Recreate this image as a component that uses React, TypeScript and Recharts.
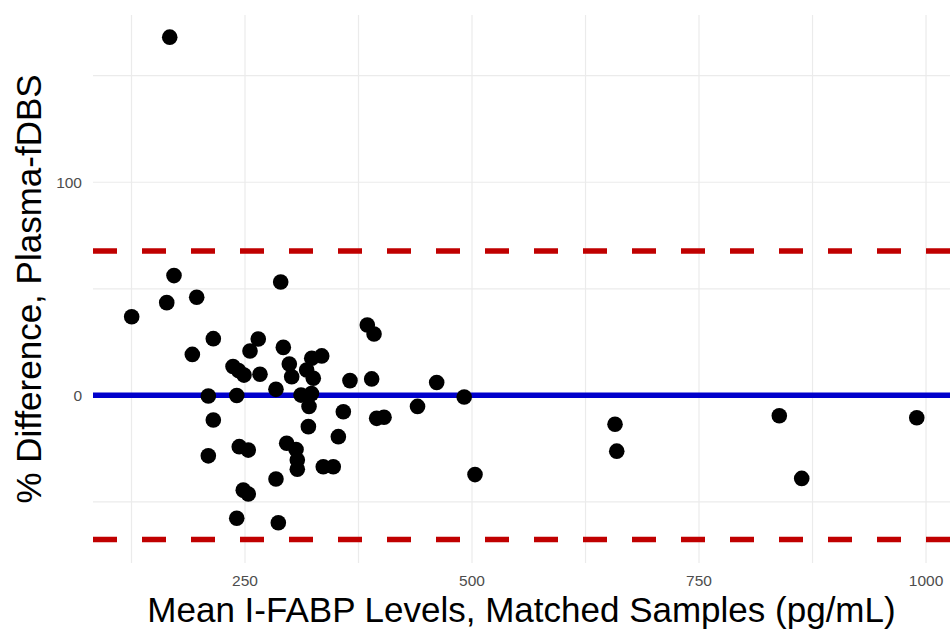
import { CartesianGrid, Label, ReferenceLine, Scatter, ScatterChart, XAxis, YAxis } from "recharts";

// mean of plasma and fDBS I-FABP (pg/mL)
const meanLevels = [
  167.1, 125.2, 171.8, 163.8, 196.8, 215.1, 192.0, 209.6, 240.9, 289.3,
  264.6, 255.5, 292.2, 236.8, 242.8, 248.9, 266.5, 298.8, 301.4, 284.1,
  323.5, 334.5, 317.9, 325.2, 365.6, 389.5, 384.7, 392.1, 215.1, 209.6,
  243.7, 253.6, 248.1, 253.6, 240.9, 286.7, 284.1, 295.9, 306.2, 307.6,
  307.6, 320.5, 319.8, 358.3, 352.8, 336.2, 347.2, 395.0, 403.1, 461.1,
  440.0, 491.4, 503.3, 657.5, 659.4, 838.4, 863.1, 989.8, 311.7, 323.2,
];

// % difference plasma - fDBS, same order
const pctDiffs = [
  168.1, 36.9, 56.2, 43.5, 46.0, 26.6, 19.2, -0.3, -0.1, 53.2,
  26.4, 20.8, 22.5, 13.5, 11.6, 9.5, 9.9, 14.7, 8.7, 2.8,
  17.4, 18.5, 11.9, 8.0, 6.9, 7.7, 33.0, 28.8, -11.6, -28.4,
  -24.1, -25.7, -44.5, -46.3, -57.7, -59.8, -39.3, -22.5, -25.4, -30.4,
  -34.7, -5.2, -14.7, -7.7, -19.4, -33.5, -33.5, -10.8, -10.3, 6.0,
  -5.2, -0.8, -37.2, -13.6, -26.2, -9.6, -39.0, -10.5, 0.1, 0.8,
];

const meanBias = 0;
const limitsOfAgreement = [67.7, -67.7];

const xTicks = [250, 500, 750, 1000];
const yTicks = [0, 100];
const xGrid = [125, 250, 375, 500, 625, 750, 875, 1000];
const yGrid = [-50, 0, 50, 100, 150];

const points = meanLevels.map((x, i) => ({ x, y: pctDiffs[i] }));

const FONT = "'Liberation Sans', Arial, Helvetica, sans-serif";

const XTick = (props: any) => (
  <text x={props.x} y={props.y + 23} textAnchor="middle" fontSize={15.5} fill="#4d4d4d" fontFamily={FONT}>
    {props.payload.value}
  </text>
);

const YTick = (props: any) => (
  <text x={props.x - 11} y={props.y + 6} textAnchor="end" fontSize={15.5} fill="#4d4d4d" fontFamily={FONT}>
    {props.payload.value}
  </text>
);

const Dot = (props: any) => <circle cx={props.cx} cy={props.cy} r={7.8} fill="#000" />;

export default function App() {
  return (
    <div style={{ position: "absolute", left: 0, top: 0, background: "#fff" }}>
      <ScatterChart width={950} height={629} margin={{ top: 15, right: 0, bottom: 0, left: 0 }}>
        <CartesianGrid stroke="#ebebeb" strokeWidth={1.2} horizontalValues={yGrid} verticalValues={xGrid} />
        <XAxis
          allowDataOverflow
          axisLine={false}
          dataKey="x"
          domain={[82.6, 1026.4]}
          height={66}
          interval={0}
          tick={<XTick />}
          tickLine={false}
          tickMargin={0}
          tickSize={0}
          ticks={xTicks}
          type="number"
        >
          <Label
            content={(p: any) => (
              <text
                x={p.viewBox.x + p.viewBox.width / 2}
                y={p.viewBox.y + 59}
                textAnchor="middle"
                fontSize={35}
                fill="#000"
                fontFamily={FONT}
              >
                Mean I-FABP Levels, Matched Samples (pg/mL)
              </text>
            )}
          />
        </XAxis>
        <YAxis
          allowDataOverflow
          axisLine={false}
          dataKey="y"
          domain={[-78.7, 178.5]}
          interval={0}
          tick={<YTick />}
          tickLine={false}
          tickMargin={0}
          tickSize={0}
          ticks={yTicks}
          type="number"
          width={93}
        >
          <Label
            content={(p: any) => {
              const cy = p.viewBox.y + p.viewBox.height / 2;
              return (
                <text
                  x={41}
                  y={cy}
                  transform={`rotate(-90, 41, ${cy})`}
                  textAnchor="middle"
                  fontSize={35}
                  fill="#000"
                  fontFamily={FONT}
                >
                  % Difference, Plasma-fDBS
                </text>
              );
            }}
          />
        </YAxis>
        <ReferenceLine y={limitsOfAgreement[0]} stroke="#c00000" strokeWidth={5.5} strokeDasharray="24 25" />
        <ReferenceLine y={limitsOfAgreement[1]} stroke="#c00000" strokeWidth={5.5} strokeDasharray="24 25" />
        <ReferenceLine y={meanBias} stroke="#0000cc" strokeWidth={5.5} />
        <Scatter data={points} fill="#000" isAnimationActive={false} shape={<Dot />} />
      </ScatterChart>
    </div>
  );
}
